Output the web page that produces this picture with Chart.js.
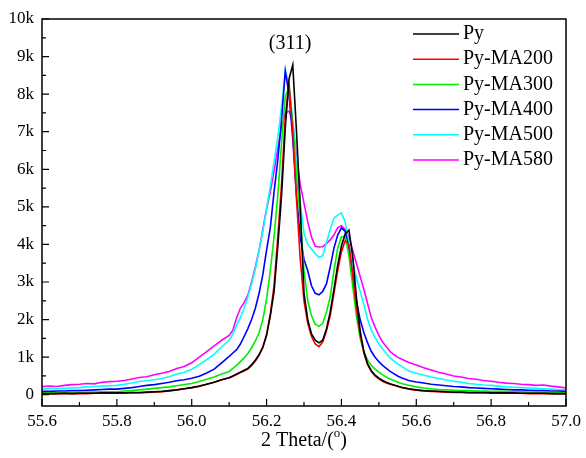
<!DOCTYPE html>
<html>
<head>
<meta charset="utf-8">
<title>XRD (311) peak</title>
<script src="https://cdn.jsdelivr.net/npm/chart.js@4.4.0/dist/chart.umd.min.js"></script>
<style>
html, body { margin: 0; padding: 0; background: #fff; }
canvas { display: block; }
</style>
</head>
<body>
<canvas id="xrdChart" width="586" height="458"></canvas>
<script>
// 2 theta positions (deg), finer steps around the peaks
const twoTheta = [
  55.60, 55.62, 55.64, 55.66, 55.68, 55.70, 55.72, 55.74, 55.76, 55.78,
  55.80, 55.82, 55.84, 55.86, 55.88, 55.90, 55.92, 55.94, 55.96, 55.98,
  56.00, 56.02, 56.04, 56.06, 56.08,
  56.10, 56.11, 56.12, 56.13, 56.14, 56.15, 56.16, 56.17, 56.18, 56.19,
  56.20, 56.21, 56.22, 56.23, 56.24, 56.25, 56.26, 56.27, 56.28, 56.29,
  56.30, 56.31, 56.32, 56.33, 56.34, 56.35, 56.36, 56.37, 56.38, 56.39,
  56.40, 56.41, 56.42, 56.43, 56.44, 56.45, 56.46, 56.47, 56.48, 56.49,
  56.50, 56.51, 56.52, 56.53, 56.54, 56.55,
  56.56, 56.58, 56.60, 56.62, 56.64, 56.66, 56.68, 56.70, 56.72, 56.74,
  56.76, 56.78, 56.80, 56.82, 56.84, 56.86, 56.88, 56.90, 56.92, 56.94,
  56.96, 56.98, 57.00
];

const py = [
  30, 30, 30, 40, 30, 40, 40, 40, 50, 50, 50, 50, 60, 60, 70, 80, 90, 110, 130, 160,
  190, 230, 280, 330, 400,
  450, 500, 550, 600, 650, 700, 800, 920, 1070, 1270, 1580, 2100, 2750, 3950, 5300,
  7100, 8400, 8780, 7000, 5000, 2700, 2000, 1620, 1450, 1380, 1450, 1750, 2200, 2800, 3450,
  3950, 4280, 4380, 3700, 2600, 1700, 1150, 820, 640, 520, 440, 380, 330, 290, 260, 230,
  200, 160, 130, 110, 100, 90, 80, 70, 70, 60, 60, 60, 50, 50, 50, 50, 40, 40, 40, 40,
  30, 30, 30
];
const pyMA200 = [
  20, 20, 30, 30, 30, 30, 30, 40, 40, 40, 40, 50, 50, 50, 60, 70, 80, 100, 130, 160,
  190, 220, 280, 330, 400,
  450, 490, 540, 590, 630, 680, 780, 900, 1050, 1250, 1600, 2150, 2900, 4200, 5600,
  7400, 8280, 7000, 5200, 3600, 2500, 1900, 1550, 1350, 1280, 1400, 1700, 2100, 2700, 3300,
  3800, 4100, 4000, 3200, 2300, 1600, 1100, 800, 620, 500, 420, 360, 310, 280, 250, 220,
  190, 150, 120, 100, 90, 80, 70, 60, 60, 50, 50, 50, 50, 40, 50, 40, 40, 30, 30, 30,
  30, 20, 20
];
const pyMA300 = [
  50, 50, 50, 60, 60, 60, 70, 70, 80, 80, 80, 100, 110, 130, 150, 170, 190, 210, 240, 270,
  300, 350, 410, 470, 550,
  620, 700, 780, 880, 980, 1100, 1250, 1430, 1650, 2000, 2550, 3300, 4200, 5300, 6700,
  7950, 8150, 7200, 5800, 4700, 3300, 2500, 2100, 1880, 1820, 1900, 2200, 2600, 3300, 3900,
  4200, 4220, 3700, 2900, 2100, 1500, 1150, 920, 780, 680, 600, 530, 470, 420, 380, 340,
  300, 250, 210, 180, 160, 140, 130, 120, 110, 110, 100, 100, 90, 90, 90, 80, 80, 70, 70, 60,
  60, 50, 50
];
const pyMA400 = [
  90, 90, 100, 100, 110, 110, 120, 130, 140, 150, 150, 170, 190, 220, 250, 270, 300, 330, 370, 400,
  440, 490, 580, 680, 850,
  1020, 1110, 1200, 1350, 1550, 1760, 2000, 2300, 2700, 3200, 3850, 4450, 5400, 6250, 7300,
  8620, 8000, 6800, 5300, 4200, 3600, 3300, 2900, 2700, 2660, 2750, 2950, 3400, 3900, 4250,
  4440, 4350, 3900, 3200, 2500, 2000, 1650, 1380, 1150, 1000, 880, 780, 700, 620, 560, 500,
  450, 380, 340, 310, 280, 260, 240, 220, 210, 190, 180, 170, 160, 150, 140, 130, 130, 120, 110, 110,
  100, 100, 90
];
const pyMA500 = [
  150, 160, 160, 170, 180, 190, 210, 220, 230, 240, 250, 280, 310, 350, 370, 400, 430, 480, 550, 600,
  680, 800, 930, 1080, 1270,
  1450, 1620, 1850, 2050, 2300, 2600, 2950, 3350, 3850, 4350, 4950, 5550, 6200, 6850, 7650,
  8620, 8250, 7300, 6200, 5100, 4300, 4000, 3880, 3750, 3650, 3700, 4050, 4400, 4700, 4780,
  4840, 4600, 4000, 3550, 3100, 2750, 2400, 2000, 1720, 1520, 1350, 1220, 1100, 980, 900, 820,
  760, 630, 570, 520, 470, 430, 390, 360, 330, 300, 280, 260, 250, 230, 210, 200, 190, 180, 170, 160,
  150, 140, 130
];
const pyMA580 = [
  220, 230, 220, 250, 270, 280, 300, 290, 330, 350, 360, 380, 420, 460, 480, 530, 570, 620, 700, 750,
  850, 1000, 1150, 1300, 1450,
  1580, 1720, 2050, 2300, 2450, 2650, 3000, 3400, 3850, 4400, 4950, 5400, 5950, 6550, 7100,
  7500, 7550, 7250, 6300, 5600, 5100, 4600, 4200, 3950, 3930, 3940, 4020, 4120, 4250, 4450,
  4500, 4400, 4200, 3850, 3500, 3150, 2800, 2420, 2050, 1800, 1580, 1400, 1280, 1150, 1070, 1000,
  950, 860, 790, 720, 660, 600, 550, 500, 470, 430, 410, 380, 360, 330, 310, 300, 280, 270, 250, 260,
  230, 210, 180
];

const seriesNames = ['Py', 'Py-MA200', 'Py-MA300', 'Py-MA400', 'Py-MA500', 'Py-MA580'];
const seriesValues = [py, pyMA200, pyMA300, pyMA400, pyMA500, pyMA580];
const seriesColors = ['#000000', '#ff0000', '#00ee00', '#0000ff', '#00ffff', '#ff00ff'];

const xMajorTicks = [55.6, 55.8, 56.0, 56.2, 56.4, 56.6, 56.8, 57.0];
const xTickLabels = ['55.6', '55.8', '56.0', '56.2', '56.4', '56.6', '56.8', '57.0'];
const xMinorTicks = [55.7, 55.9, 56.1, 56.3, 56.5, 56.7, 56.9];
const yMajorTicks = [0, 1000, 2000, 3000, 4000, 5000, 6000, 7000, 8000, 9000, 10000];
const yTickLabels = ['0', '1k', '2k', '3k', '4k', '5k', '6k', '7k', '8k', '9k', '10k'];
const yMinorTicks = [500, 1500, 2500, 3500, 4500, 5500, 6500, 7500, 8500, 9500];

const peakLabel = '(311)';
const xTitleMain = '2 Theta/(';
const xTitleSup = 'o';
const xTitleEnd = ')';

const serif = '"Liberation Serif", "Times New Roman", serif';

Chart.defaults.font.family = serif;
Chart.defaults.color = '#000';

// frame, inward ticks, axis title, peak label and legend
const decorations = {
  id: 'decorations',
  afterDraw(chart) {
    const ctx = chart.ctx;
    const a = chart.chartArea;
    const x = chart.scales.x;
    const y = chart.scales.y;
    ctx.save();
    ctx.strokeStyle = '#000';
    ctx.lineWidth = 1.5;
    ctx.strokeRect(a.left, a.top, a.right - a.left, a.bottom - a.top);

    ctx.lineWidth = 1.2;
    ctx.beginPath();
    xMajorTicks.forEach(v => {
      const px = x.getPixelForValue(v);
      ctx.moveTo(px, a.bottom);
      ctx.lineTo(px, a.bottom - 7);
    });
    xMinorTicks.forEach(v => {
      const px = x.getPixelForValue(v);
      ctx.moveTo(px, a.bottom);
      ctx.lineTo(px, a.bottom - 4);
    });
    yMajorTicks.forEach(v => {
      const py = y.getPixelForValue(v);
      ctx.moveTo(a.left, py);
      ctx.lineTo(a.left + 7, py);
    });
    yMinorTicks.forEach(v => {
      const py = y.getPixelForValue(v);
      ctx.moveTo(a.left, py);
      ctx.lineTo(a.left + 4, py);
    });
    ctx.stroke();

    ctx.fillStyle = '#000';
    ctx.textBaseline = 'middle';

    // peak label
    ctx.font = '20px ' + serif;
    ctx.textAlign = 'center';
    ctx.fillText(peakLabel, x.getPixelForValue(56.263), y.getPixelForValue(9330));

    // x axis title with superscript o
    ctx.textAlign = 'left';
    const mainFont = '20px ' + serif;
    const supFont = '13px ' + serif;
    ctx.font = mainFont;
    const w1 = ctx.measureText(xTitleMain).width;
    const w3 = ctx.measureText(xTitleEnd).width;
    ctx.font = supFont;
    const w2 = ctx.measureText(xTitleSup).width;
    const cx = (a.left + a.right) / 2;
    const ty = 441;
    let tx = cx - (w1 + w2 + w3) / 2;
    ctx.font = mainFont;
    ctx.fillText(xTitleMain, tx, ty);
    tx += w1;
    ctx.font = supFont;
    ctx.fillText(xTitleSup, tx, ty - 7);
    tx += w2;
    ctx.font = mainFont;
    ctx.fillText(xTitleEnd, tx, ty);

    // legend
    ctx.font = '20px ' + serif;
    seriesNames.forEach((name, i) => {
      const ry = 34 + i * 25.2;
      ctx.strokeStyle = seriesColors[i];
      ctx.lineWidth = 1.5;
      ctx.beginPath();
      ctx.moveTo(413, ry);
      ctx.lineTo(459, ry);
      ctx.stroke();
      ctx.fillText(name, 463, ry);
    });
    ctx.restore();
  }
};

new Chart(document.getElementById('xrdChart'), {
  type: 'line',
  data: {
    datasets: seriesValues.map((vals, i) => ({
      label: seriesNames[i],
      data: twoTheta.map((t, k) => ({ x: t, y: vals[k] })),
      borderColor: seriesColors[i],
      backgroundColor: seriesColors[i],
      borderWidth: 1.6,
      pointRadius: 0,
      tension: 0,
      fill: false
    }))
  },
  options: {
    responsive: false,
    animation: false,
    layout: { padding: { top: 19, right: 20, left: 0, bottom: 0 } },
    plugins: {
      legend: { display: false },
      tooltip: { enabled: false }
    },
    scales: {
      x: {
        type: 'linear',
        min: 55.6,
        max: 57.0,
        afterBuildTicks: s => { s.ticks = xMajorTicks.map(v => ({ value: v })); },
        afterFit: s => { s.height = 52; },
        grid: { display: false, drawTicks: false },
        border: { display: false },
        ticks: {
          autoSkip: false,
          maxRotation: 0,
          padding: 5,
          font: { size: 17 },
          callback: (v, i) => xTickLabels[i]
        }
      },
      y: {
        type: 'linear',
        min: -300,
        max: 10000,
        afterBuildTicks: s => { s.ticks = yMajorTicks.map(v => ({ value: v })); },
        afterFit: s => { s.width = 42; },
        grid: { display: false, drawTicks: false },
        border: { display: false },
        ticks: {
          autoSkip: false,
          padding: 8,
          font: { size: 17 },
          callback: (v, i) => yTickLabels[i]
        }
      }
    }
  },
  plugins: [decorations]
});
</script>
</body>
</html>
